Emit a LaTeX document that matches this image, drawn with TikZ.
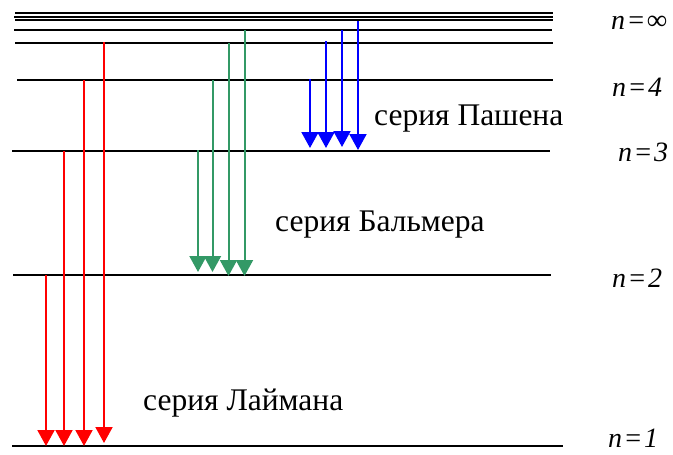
\documentclass[tikz,border=0pt]{standalone}
\usepackage{fontspec}
\setmainfont{Liberation Serif}
\usetikzlibrary{arrows.meta}
\definecolor{lred}{RGB}{255,0,0}
\definecolor{lgreen}{RGB}{51,153,102}
\definecolor{lblue}{RGB}{0,0,255}
\newcommand{\eqk}{\kern1.5pt=\kern1.5pt}
\begin{document}
\begin{tikzpicture}[x=1pt,y=-1pt,
  level/.style={line width=1.9pt},
  trans/.style={line width=2pt,-{Triangle[width=17pt,length=16pt]}},
  lab/.style={anchor=base west,inner sep=0pt,font=\fontsize{31.5}{33}\selectfont},
  nlab/.style={anchor=base west,inner sep=0pt,font=\fontsize{28}{30}\selectfont\itshape}]
\useasboundingbox (0,0) rectangle (673,455);
% energy levels
\draw[level] (15,13.3) -- (553,13.3);
\draw[level] (14,16.8) -- (553,16.8);
\draw[level] (15,20.3) -- (553,20.3);
\draw[level] (14,30) -- (552,30);
\draw[level] (15,43) -- (553,43);
\draw[level] (17,80) -- (553,80);
\draw[level] (12,151) -- (550,151);
\draw[level] (13,275) -- (551,275);
\draw[level] (12,446) -- (563,446);
% Lyman
\coordinate (r1s) at (46,275);  \coordinate (r1e) at (46,446);
\coordinate (r2s) at (64,151);  \coordinate (r2e) at (64,446);
\coordinate (r3s) at (84,80);   \coordinate (r3e) at (84,446);
\coordinate (r4s) at (104,42);  \coordinate (r4e) at (104,443);
\foreach \i in {1,...,4} \draw[trans,lred] (r\i s) -- (r\i e);
% Balmer
\coordinate (g1s) at (198,150);   \coordinate (g1e) at (198,272);
\coordinate (g2s) at (212.5,80);  \coordinate (g2e) at (212.5,272);
\coordinate (g3s) at (228.5,43);  \coordinate (g3e) at (228.5,276);
\coordinate (g4s) at (244.5,30);  \coordinate (g4e) at (244.5,276);
\foreach \i in {1,...,4} \draw[trans,lgreen] (g\i s) -- (g\i e);
% Paschen
\coordinate (b1s) at (310,79);  \coordinate (b1e) at (310,148);
\coordinate (b2s) at (326,41);  \coordinate (b2e) at (326,148);
\coordinate (b3s) at (342,30);  \coordinate (b3e) at (342,147);
\coordinate (b4s) at (358,21);  \coordinate (b4e) at (358,150);
\foreach \i in {1,...,4} \draw[trans,lblue] (b\i s) -- (b\i e);
% series labels
\node[lab] (pas) at (374,125) {серия Пашена};
\node[lab] (bal) at (275,231) {серия Бальмера};
\node[lab] (lay) at (143,410) {серия Лаймана};
% level labels
\node[nlab] (ninf) at (611,29) {n\eqk∞};
\node[nlab] (n4) at (612,96) {n\eqk4};
\node[nlab] (n3) at (618,161) {n\eqk3};
\node[nlab] (n2) at (612,287) {n\eqk2};
\node[nlab] (n1) at (608,447) {n\eqk1};
\end{tikzpicture}
\end{document}
